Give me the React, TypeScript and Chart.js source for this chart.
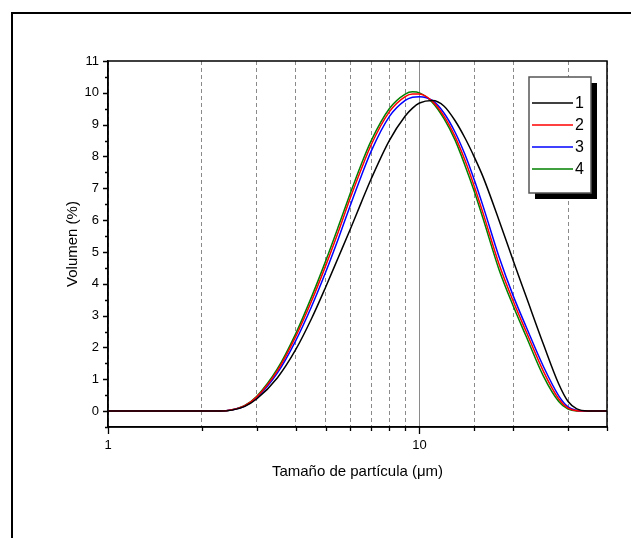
import React, { useEffect, useRef } from "react";
import { Chart, registerables } from "chart.js";

Chart.register(...registerables);

// Particle size (µm)
const sizes = [1, 2, 2.3, 2.5, 2.75, 3, 3.5, 4, 4.5, 5, 5.5, 6, 6.5, 7, 8, 9, 9.5, 10, 11, 12, 13, 14, 15, 16, 18, 20, 22, 25, 28, 30, 32, 35, 40];

// Volume (%) per sample
const series1 = [0, 0, 0, 0.03, 0.15, 0.38, 1.05, 1.92, 2.9, 3.9, 4.85, 5.72, 6.55, 7.3, 8.5, 9.27, 9.52, 9.68, 9.76, 9.58, 9.13, 8.58, 7.98, 7.36, 6.0, 4.72, 3.6, 2.1, 0.85, 0.3, 0.07, 0.005, 0];
const series2 = [0, 0, 0, 0.04, 0.17, 0.44, 1.27, 2.33, 3.45, 4.57, 5.66, 6.7, 7.6, 8.37, 9.4, 9.88, 9.96, 9.96, 9.73, 9.26, 8.63, 7.88, 7.06, 6.22, 4.62, 3.45, 2.5, 1.25, 0.38, 0.09, 0.01, 0, 0];
const series3 = [0, 0, 0, 0.04, 0.16, 0.42, 1.2, 2.2, 3.28, 4.37, 5.44, 6.47, 7.38, 8.17, 9.25, 9.76, 9.86, 9.88, 9.76, 9.36, 8.77, 8.06, 7.26, 6.44, 4.85, 3.62, 2.65, 1.4, 0.48, 0.13, 0.02, 0, 0];
const series4 = [0, 0, 0, 0.04, 0.18, 0.46, 1.33, 2.42, 3.58, 4.72, 5.82, 6.85, 7.75, 8.5, 9.5, 9.96, 10.03, 10.0, 9.7, 9.18, 8.52, 7.72, 6.9, 6.05, 4.45, 3.3, 2.35, 1.1, 0.3, 0.06, 0.005, 0, 0];

const seriesNames = ["1", "2", "3", "4"];
const seriesColors = ["#000000", "#ff0000", "#0000ff", "#008000"];
const allSeries = [series1, series2, series3, series4];

const xLabelTicks = [1, 10];

const FONT = 'Arial, "Liberation Sans", Helvetica, sans-serif';

const decorPlugin = {
  id: "decor",
  beforeDraw(chart: any) {
    const { ctx } = chart;
    ctx.save();
    ctx.fillStyle = "#ffffff";
    ctx.fillRect(0, 0, chart.width, chart.height);
    ctx.strokeStyle = "#000";
    ctx.lineWidth = 2;
    ctx.strokeRect(12, 13, 800, 800);
    ctx.restore();
  },
  afterDraw(chart: any) {
    const { ctx, chartArea } = chart;
    const xs = chart.scales.x;
    const ys = chart.scales.y;
    ctx.save();
    // plot frame
    ctx.strokeStyle = "#000";
    ctx.lineWidth = 1.5;
    ctx.strokeRect(chartArea.left, chartArea.top, chartArea.right - chartArea.left, chartArea.bottom - chartArea.top);
    // tick marks
    ctx.lineWidth = 1.3;
    ctx.beginPath();
    xs.ticks.forEach((t: any) => {
      const px = Math.round(xs.getPixelForValue(t.value)) + 0.5;
      const len = xLabelTicks.includes(t.value) ? 7 : 4;
      ctx.moveTo(px, chartArea.bottom);
      ctx.lineTo(px, chartArea.bottom + len);
    });
    ys.ticks.forEach((t: any) => {
      const py = Math.round(ys.getPixelForValue(t.value)) + 0.5;
      const isInt = Math.abs(t.value - Math.round(t.value)) < 1e-6;
      const len = isInt ? 5 : 3;
      ctx.moveTo(chartArea.left - len, py);
      ctx.lineTo(chartArea.left, py);
    });
    ctx.stroke();

    // legend box with shadow
    const bx = 529, by = 77, bw = 62, bh = 116;
    ctx.fillStyle = "#000";
    ctx.fillRect(bx + 6, by + 6, bw, bh);
    ctx.fillStyle = "#fff";
    ctx.fillRect(bx, by, bw, bh);
    ctx.strokeStyle = "#555";
    ctx.lineWidth = 1.5;
    ctx.strokeRect(bx, by, bw, bh);
    ctx.font = "16px " + FONT;
    ctx.textBaseline = "middle";
    ctx.textAlign = "left";
    chart.data.datasets.forEach((ds: any, i: number) => {
      const y = 103 + i * 22;
      ctx.strokeStyle = ds.borderColor;
      ctx.lineWidth = 1.5;
      ctx.beginPath();
      ctx.moveTo(532, y);
      ctx.lineTo(573, y);
      ctx.stroke();
      ctx.fillStyle = "#000";
      ctx.fillText(ds.label, 575, y + 1);
    });
    ctx.restore();
  },
};

export default function App() {
  const ref = useRef<HTMLCanvasElement | null>(null);
  useEffect(() => {
    if (!ref.current) return;
    Chart.defaults.font.family = FONT;
    const chart = new Chart(ref.current, {
      type: "line",
      data: {
        datasets: allSeries.map((s, i) => ({
          label: seriesNames[i],
          data: sizes.map((x, j) => ({ x, y: s[j] })),
          borderColor: seriesColors[i],
          backgroundColor: seriesColors[i],
          borderWidth: 1.5,
          pointRadius: 0,
          cubicInterpolationMode: "monotone" as const,
          fill: false,
        })),
      },
      options: {
        responsive: false,
        animation: false,
        layout: { padding: { left: 64, top: 61, right: 24, bottom: 57 } },
        plugins: { legend: { display: false }, tooltip: { enabled: false } },
        scales: {
          x: {
            type: "logarithmic",
            min: 1,
            max: 40,
            afterFit: (s: any) => { s.height = 54; },
            grid: {
              color: "#8a8a8a",
              lineWidth: 1,
              tickColor: "transparent",
              tickLength: 7,
            },
            border: {
              color: "#000",
              width: 1.5,
              dash: (ctx: any) => (ctx.tick && ctx.tick.value !== 10 ? [4, 3] : []),
            },
            ticks: {
              autoSkip: false,
              maxRotation: 0,
              color: "#000",
              padding: 4,
              font: { size: 13 },
              callback: (v: any) => (xLabelTicks.includes(Number(v)) ? String(v) : ""),
            },
            title: {
              display: true,
              text: "Tamaño de partícula (μm)",
              color: "#000",
              font: { size: 15 },
              padding: 0,
            },
          },
          y: {
            type: "linear",
            min: -0.5,
            max: 11,
            afterFit: (s: any) => { s.width = 44; },
            grid: { drawOnChartArea: false, tickColor: "transparent", tickLength: 5 },
            border: { color: "#000", width: 1.5 },
            ticks: {
              stepSize: 0.5,
              autoSkip: false,
              color: "#000",
              padding: 4,
              font: { size: 13 },
              callback: (v: any) => {
                const n = Number(v);
                return Math.abs(n - Math.round(n)) < 1e-6 && n >= 0 ? String(Math.round(n)) : "";
              },
            },
            title: {
              display: true,
              text: "Volumen (%)",
              color: "#000",
              font: { size: 15 },
              padding: 0,
            },
          },
        },
      },
      plugins: [decorPlugin],
    });
    return () => chart.destroy();
  }, []);
  return (
    <div style={{ position: "absolute", left: 0, top: 0, width: 631, height: 538 }}>
      <canvas ref={ref} width={631} height={538} style={{ display: "block" }} />
    </div>
  );
}
